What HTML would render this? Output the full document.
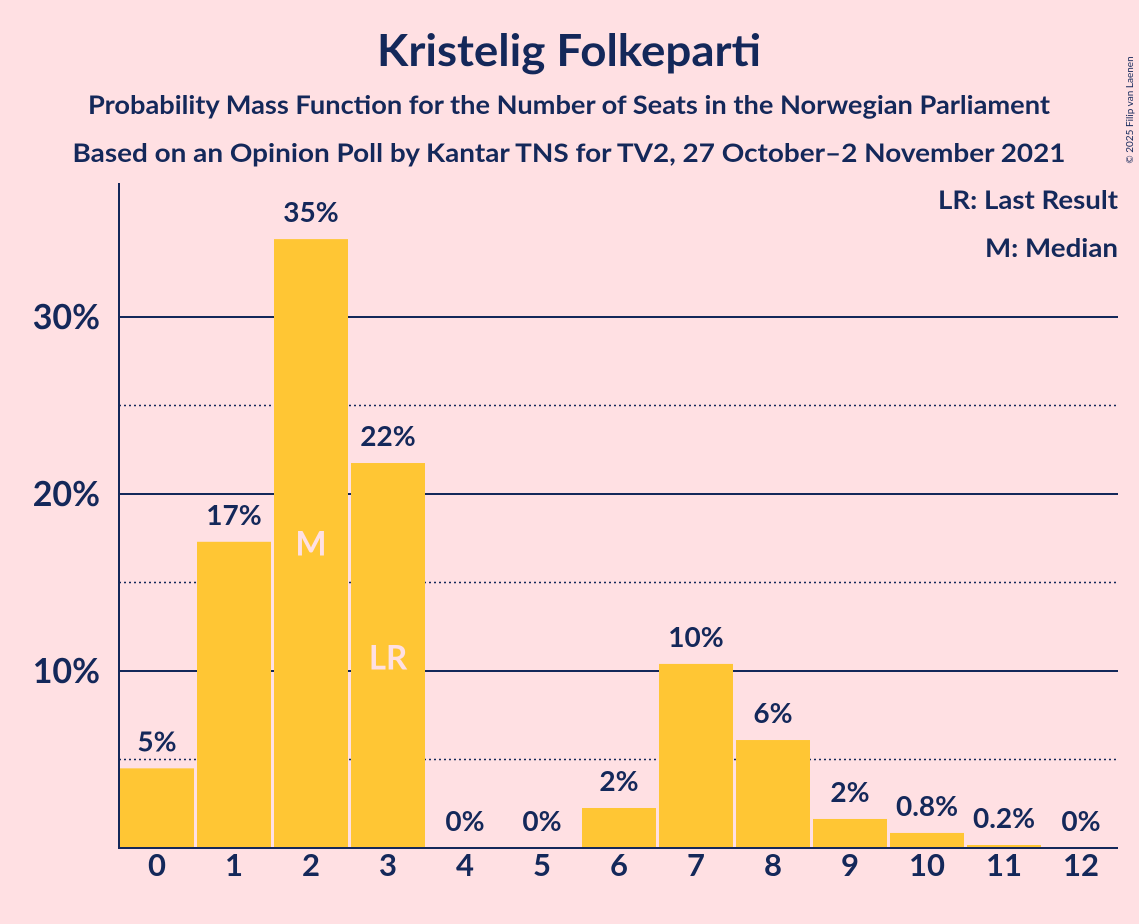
<!DOCTYPE html>
<html><head><meta charset="utf-8"><style>
body{margin:0;background:#ffe0e3;}
svg{display:block;font-family:"Lato","Liberation Sans",sans-serif;}
</style></head><body>
<svg id="c" width="1139" height="924" xmlns="http://www.w3.org/2000/svg">
<rect width="1139" height="924" fill="#ffe0e3"/>
<text x="569" y="66" text-anchor="middle" font-size="44" font-weight="bold" fill="#14285a" textLength="384" lengthAdjust="spacingAndGlyphs">Kristelig Folkeparti</text>
<text x="569" y="114" text-anchor="middle" font-size="26" font-weight="bold" fill="#14285a" textLength="962" lengthAdjust="spacingAndGlyphs">Probability Mass Function for the Number of Seats in the Norwegian Parliament</text>
<text x="569" y="162" text-anchor="middle" font-size="26" font-weight="bold" fill="#14285a" textLength="993" lengthAdjust="spacingAndGlyphs">Based on an Opinion Poll by Kantar TNS for TV2, 27 October–2 November 2021</text>
<text x="1118" y="209" text-anchor="end" font-size="26" font-weight="bold" fill="#14285a" textLength="180" lengthAdjust="spacingAndGlyphs">LR: Last Result</text>
<text x="1118" y="257" text-anchor="end" font-size="26" font-weight="bold" fill="#14285a" textLength="133" lengthAdjust="spacingAndGlyphs">M: Median</text>
<text x="1133" y="110" font-size="10" fill="#14285a" transform="rotate(-90 1133 110)" text-anchor="middle">© 2025 Filip van Laenen</text>
<g id="grid"></g><g id="bars"></g><g id="labels"></g>
</svg>
<script>
const categories=["0","1","2","3","4","5","6","7","8","9","10","11","12"];
const values=[4.5,17.3,34.4,21.75,0,0,2.26,10.4,6.1,1.64,0.85,0.17,0];
const valueLabels=["5%","17%","35%","22%","0%","0%","2%","10%","6%","2%","0.8%","0.2%","0%"];
const majorTicks=[10,20,30];
const majorLabels=["10%","20%","30%"];
const minorTicks=[5,15,25];
const medianIndex=2, lastResultIndex=3;
const NS="http://www.w3.org/2000/svg";
const y=v=>848-v*17.7;
const xc=i=>157+i*77;
function mk(tag,attrs,parent,text){const e=document.createElementNS(NS,tag);for(const k in attrs)e.setAttribute(k,attrs[k]);if(text!==undefined)e.textContent=text;document.getElementById(parent).appendChild(e);return e;}
minorTicks.forEach(t=>{const l=mk('line',{x1:119,x2:1118,y1:y(t),y2:y(t),stroke:'#14285a','stroke-width':1.5,'stroke-dasharray':'2,3'},'grid');

});
majorTicks.forEach((t,i)=>{const l=mk('line',{x1:119,x2:1118,y1:y(t),y2:y(t),stroke:'#14285a','stroke-width':2},'grid');


const tx=mk('text',{x:100,y:y(t)+12,'text-anchor':'end','font-size':34,'font-weight':'bold',fill:'#14285a'},'grid',majorLabels[i]);

});
values.forEach((v,i)=>{
 if(v>0){const r=mk('rect',{x:xc(i)-37,y:y(v),width:74,height:848-y(v),fill:'#ffc634'},'bars');
 
 }
 const t=mk('text',{x:xc(i),y:y(v)-17,'text-anchor':'middle','font-size':28,'font-weight':'bold',fill:'#14285a'},'labels',valueLabels[i]);
 
 
 const xl=mk('text',{x:xc(i),y:876,'text-anchor':'middle','font-size':31,'font-weight':'bold',fill:'#14285a'},'labels',categories[i]);
 
 
});
const m=mk('text',{x:xc(medianIndex),y:y(values[medianIndex]/2)+12,'text-anchor':'middle','font-size':33,'font-weight':'bold',fill:'#ffe0e3'},'labels','M');


const lr=mk('text',{x:xc(lastResultIndex),y:y(values[lastResultIndex]/2)+14,'text-anchor':'middle','font-size':33,'font-weight':'bold',fill:'#ffe0e3'},'labels','LR');


const ya=mk('line',{x1:119,x2:119,y1:183,y2:848,stroke:'#14285a','stroke-width':2},'labels');


const xa=mk('line',{x1:118,x2:1118,y1:848,y2:848,stroke:'#14285a','stroke-width':2},'labels');


</script>
</body></html>
